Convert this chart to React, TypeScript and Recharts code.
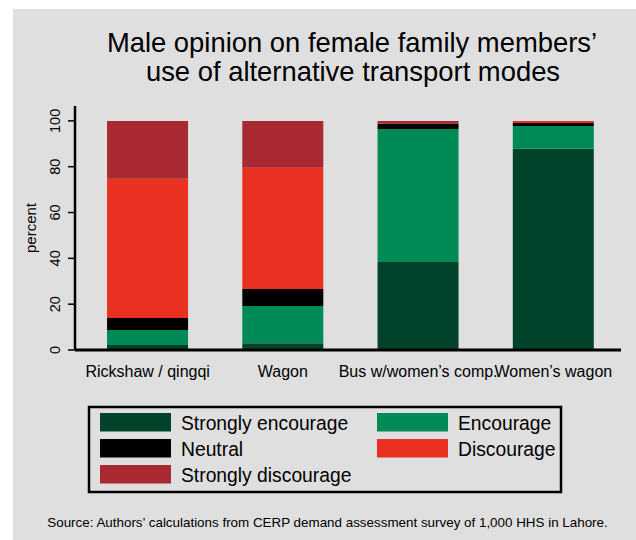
import React from "react"
import { BarChart, Bar, XAxis, YAxis } from "recharts"

const categories = ["Rickshaw / qingqi", "Wagon", "Bus w/women’s comp.", "Women’s wagon"]

const stronglyEncourage = [2.2, 2.9, 38.4, 87.8]
const encourage = [6.5, 16.3, 58.1, 10.0]
const neutral = [5.3, 7.4, 2.3, 1.3]
const discourage = [60.7, 52.9, 0, 0.9]
const stronglyDiscourage = [25.3, 20.5, 1.2, 0]

const yTicks = [0, 20, 40, 60, 80, 100]

const SERIES = [
  { key: "se", name: "Strongly encourage", color: "#00432a", values: stronglyEncourage },
  { key: "en", name: "Encourage", color: "#008a56", values: encourage },
  { key: "ne", name: "Neutral", color: "#000000", values: neutral },
  { key: "di", name: "Discourage", color: "#ea3121", values: discourage },
  { key: "sd", name: "Strongly discourage", color: "#a82932", values: stronglyDiscourage },
]

const data = categories.map((name, i) => {
  const row: any = { name }
  SERIES.forEach(s => { row[s.key] = s.values[i] })
  return row
})

const FONT = "'Liberation Sans', Arial, Helvetica, sans-serif"

const YTick = ({ x, y, payload }: any) => (
  <text
    x={x - 6}
    y={y}
    transform={`rotate(-90 ${x - 6} ${y})`}
    textAnchor="middle"
    fontSize={14.5}
    fontFamily={FONT}
    fill="#000"
  >
    {payload.value}
  </text>
)

const XTick = ({ x, y, payload }: any) => (
  <text x={x} y={y + 27} textAnchor="middle" fontSize={16} fontFamily={FONT} fill="#000">
    {payload.value}
  </text>
)

// legend laid out row by row, two columns
const legendRows = [
  [SERIES[0], SERIES[1]],
  [SERIES[2], SERIES[3]],
  [SERIES[4]],
]

export default function App() {
  return (
    <div style={{ position: "absolute", left: 0, top: 0, width: 636, height: 540, background: "#fff" }}>
      <div style={{ position: "absolute", left: 13, top: 9, width: 623, height: 531, background: "#dfdfdf" }} />
      <div style={{ position: "absolute", left: 0, top: 0 }}>
        <BarChart
          width={636}
          height={540}
          data={data}
          margin={{ top: 106, right: 15, bottom: 160, left: 0 }}
          barCategoryGap="20%"
        >
          <XAxis
            dataKey="name"
            interval={0}
            tickLine={false}
            tickSize={0}
            tickMargin={0}
            height={30}
            padding={{ left: 5, right: 0 }}
            axisLine={{ stroke: "#000", strokeWidth: 3 }}
            tick={<XTick />}
          />
          <YAxis
            width={75}
            domain={[0, 106.5]}
            ticks={yTicks}
            tickSize={7}
            tickMargin={2}
            tickLine={{ stroke: "#000", strokeWidth: 1.5 }}
            axisLine={{ stroke: "#000", strokeWidth: 2.5 }}
            tick={<YTick />}
            label={{
              content: () => (
                <text
                  x={36}
                  y={228}
                  transform="rotate(-90 36 228)"
                  textAnchor="middle"
                  fontSize={15}
                  fontFamily={FONT}
                  fill="#000"
                >
                  percent
                </text>
              ),
            }}
          />
          {SERIES.map(s => (
            <Bar key={s.key} dataKey={s.key} name={s.name} stackId="a" fill={s.color} isAnimationActive={false} />
          ))}
        </BarChart>
      </div>
      <svg width={636} height={540} style={{ position: "absolute", left: 0, top: 0, pointerEvents: "none" }}>
        <g fontFamily={FONT} fill="#000">
          <text x={352} y={52} textAnchor="middle" fontSize={27.4}>
            Male opinion on female family members’
          </text>
          <text x={353} y={81} textAnchor="middle" fontSize={27.4}>
            use of alternative transport modes
          </text>
        </g>
        <rect x={89} y={407} width={472} height={85} fill="none" stroke="#000" strokeWidth={2.5} />
        {legendRows.map((row, r) =>
          row.map((s, c) => {
            const sx = c === 0 ? 100 : 377
            const ty = 430 + r * 26
            return (
              <g key={s.key}>
                <rect x={sx} y={ty - 17} width={71} height={18.5} fill={s.color} />
                <text x={sx + 81} y={ty} fontSize={19.3} fontFamily={FONT} fill="#000">
                  {s.name}
                </text>
              </g>
            )
          })
        )}
        <text x={327.5} y={526.5} textAnchor="middle" fontSize={13.4} fontFamily={FONT} fill="#000">
          Source: Authors’ calculations from CERP demand assessment survey of 1,000 HHS in Lahore.
        </text>
      </svg>
    </div>
  )
}
